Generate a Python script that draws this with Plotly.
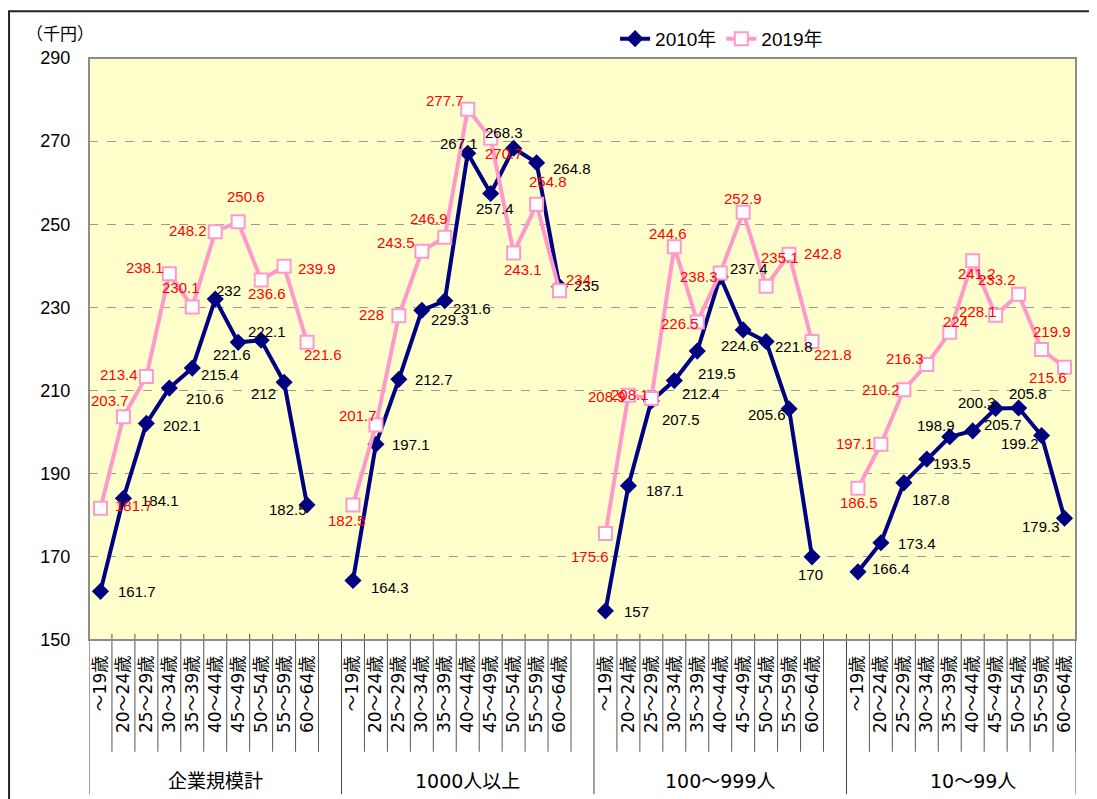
import plotly.graph_objects as go

# 区分
GRUPOS = ['企業規模計', '1000人以上', '100～999人', '10～99人']
EDADES = ['～19歳', '20～24歳', '25～29歳', '30～34歳', '35～39歳',
          '40～44歳', '45～49歳', '50～54歳', '55～59歳', '60～64歳']

# 2010年 (千円)
V2010_TOTAL = [161.7, 184.1, 202.1, 210.6, 215.4, 232, 221.6, 222.1, 212, 182.5]
V2010_1000 = [164.3, 197.1, 212.7, 229.3, 231.6, 267.1, 257.4, 268.3, 264.8, 235]
V2010_100 = [157, 187.1, 207.5, 212.4, 219.5, 237.4, 224.6, 221.8, 205.6, 170]
V2010_10 = [166.4, 173.4, 187.8, 193.5, 198.9, 200.3, 205.7, 205.8, 199.2, 179.3]

# 2019年 (千円)
V2019_TOTAL = [181.7, 203.7, 213.4, 238.1, 230.1, 248.2, 250.6, 236.6, 239.9, 221.6]
V2019_1000 = [182.5, 201.7, 228, 243.5, 246.9, 277.7, 270.7, 243.1, 254.8, 234]
V2019_100 = [175.6, 208.9, 208.1, 244.6, 226.5, 238.3, 252.9, 235.1, 242.8, 221.8]
V2019_10 = [186.5, 197.1, 210.2, 216.3, 224, 241.2, 228.1, 233.2, 219.9, 215.6]

SERIES = [
    ('2010年', [V2010_TOTAL, V2010_1000, V2010_100, V2010_10]),
    ('2019年', [V2019_TOTAL, V2019_1000, V2019_100, V2019_10]),
]

# desplazamiento de cada etiqueta respecto a su punto, en px (dx, dy hacia abajo)
DESPLAZ_ETIQUETAS = {
    '2010年': [
        [(37, 0), (37, 2), (36, 2), (36, 10), (28, 6), (13, -9), (-6, 12), (6, -9), (-21, 11), (-19, 5)],
        [(37, 7), (35, 0), (35, 0), (28, 9), (27, 8), (-9, -10), (4, 15), (-10, -16), (35, 6), (27, -1)],
        [(31, 1), (37, 5), (30, 19), (27, 13), (20, 22), (29, -8), (-3, 16), (28, 5), (-22, 6), (-2, 18)],
        [(33, -3), (36, 1), (27, 17), (25, 4), (-14, -11), (4, -28), (7, 16), (9, -15), (-22, 8), (-24, 8)],
    ],
    '2019年': [
        [(34, -3), (-13, -16), (-27, -2), (-24, -6), (-11, -20), (-27, -1), (8, -25), (6, 14), (33, 2), (16, 12)],
        [(-6, 16), (-18, -10), (-27, -1), (-26, -9), (-16, -19), (-23, -9), (13, 15), (9, 17), (11, -23), (19, -11)],
        [(-15, 23), (-21, 1), (-21, -4), (-6, -13), (-17, 2), (-21, 4), (0, -14), (14, -29), (34, -1), (21, 13)],
        [(1, 14), (-26, -1), (-23, 0), (-22, -6), (6, -11), (4, 13), (-18, -4), (-22, -15), (10, -18), (-17, 10)],
    ],
}

ESTILOS = {
    '2010年': dict(color='#000080', symbol='diamond', size=11, fill='#000080',
                  texto='#000000', ancho=4),
    '2019年': dict(color='#FF99CC', symbol='square', size=13, fill='#FFFFFF',
                  texto='#FF0000', ancho=4),
}

HUECO = 11  # 10 edades + 1 espacio entre grupos
n_slots = HUECO * (len(GRUPOS) - 1) + len(EDADES)

fig = go.Figure()
annotations = []

for nombre, grupos in SERIES:
    est = ESTILOS[nombre]
    for g, valores in enumerate(grupos):
        xs = [g * HUECO + i for i in range(len(EDADES))]
        fig.add_trace(go.Scatter(
            x=xs,
            y=valores,
            name=nombre,
            legendgroup=nombre,
            showlegend=(g == 0),
            mode='lines+markers',
            line=dict(color=est['color'], width=est['ancho']),
            marker=dict(symbol=est['symbol'], size=est['size'], color=est['fill'],
                        line=dict(color=est['color'], width=2)),
            hoverinfo='skip',
        ))
        for x, v, (dx, dy) in zip(xs, valores, DESPLAZ_ETIQUETAS[nombre][g]):
            annotations.append(dict(
                x=x, y=v, xref='x', yref='y', text=f'{v:g}', showarrow=False,
                xshift=dx, yshift=-dy, xanchor='center', yanchor='middle',
                font=dict(family='Liberation Sans, Noto Sans CJK JP', size=15,
                          color=est['texto']),
            ))

tickvals = [g * HUECO + i for g in range(len(GRUPOS)) for i in range(len(EDADES))]
ticktext = [e for _ in GRUPOS for e in EDADES]

# líneas del eje de categorías
shapes = []
for k in range(n_slots + 1):
    shapes.append(dict(type='line', xref='x', yref='paper', x0=k - 0.5, x1=k - 0.5,
                       y0=0, y1=0.0105, line=dict(color='#555555', width=1)))
for g in range(len(GRUPOS)):
    for i in range(len(EDADES)):
        shapes.append(dict(type='line', xref='x', yref='paper',
                           x0=g * HUECO + i + 0.5, x1=g * HUECO + i + 0.5,
                           y0=0, y1=-0.192, line=dict(color='#555555', width=1)))
for g in range(len(GRUPOS)):
    x = g * HUECO - 0.5
    shapes.append(dict(type='line', xref='x', yref='paper', x0=x, x1=x,
                       y0=0, y1=-0.265, line=dict(color='#444444', width=1)))
shapes.append(dict(type='line', xref='x', yref='paper', x0=n_slots - 0.5,
                   x1=n_slots - 0.5, y0=0, y1=-0.265,
                   line=dict(color='#444444', width=1)))
# marco del área de trazado
shapes.append(dict(type='rect', xref='paper', yref='paper', x0=0, x1=1, y0=0, y1=1,
                   line=dict(color='#8C8C8C', width=2), layer='above'))
# borde exterior
shapes.append(dict(type='rect', xref='paper', yref='paper', x0=-0.081, x1=1.0172,
                   y0=-0.32, y1=1.0805, line=dict(color='#222222', width=2)))

annotations.append(dict(text='（千円）', xref='paper', yref='paper', x=-0.0294,
                        y=1.0445, xanchor='center', yanchor='middle', showarrow=False,
                        font=dict(family='Noto Sans CJK JP', size=17, color='#000')))
for g, nombre in enumerate(GRUPOS):
    annotations.append(dict(
        text=nombre, xref='x', yref='paper', x=g * HUECO + (HUECO - 1) / 2,
        y=-0.243, xanchor='center', yanchor='middle', showarrow=False,
        font=dict(family='DejaVu Sans, Noto Sans CJK JP', size=19, color='#000'),
    ))

fig.update_layout(
    width=1089,
    height=791,
    autosize=False,
    margin=dict(l=81, r=21, t=48, b=159),
    paper_bgcolor='white',
    plot_bgcolor='#FFFFCC',
    font=dict(family='Liberation Sans, Noto Sans CJK JP', color='#000'),
    xaxis=dict(
        range=[-0.5, n_slots - 0.5],
        tickmode='array',
        tickvals=tickvals,
        ticktext=ticktext,
        tickangle=-90,
        tickfont=dict(family='DejaVu Sans, Noto Sans CJK JP', size=17, color='#000'),
        ticklabelstandoff=8,
        showgrid=False,
        zeroline=False,
        showline=True,
        linecolor='#333333',
        linewidth=1,
        ticks='',
    ),
    yaxis=dict(
        range=[150, 290],
        tickmode='array',
        tickvals=list(range(150, 291, 20)),
        tickfont=dict(family='Liberation Sans', size=18, color='#000'),
        ticklabelstandoff=14,
        showgrid=True,
        gridcolor='#9A9A9A',
        griddash='dash',
        gridwidth=1,
        zeroline=False,
        showline=True,
        linecolor='#333333',
        linewidth=1,
        ticks='',
    ),
    legend=dict(
        orientation='h',
        x=0.533,
        y=1.033,
        xanchor='left',
        yanchor='middle',
        font=dict(family='Liberation Sans, Noto Sans CJK JP', size=19, color='#000'),
        bgcolor='rgba(0,0,0,0)',
        itemclick=False,
    ),
    shapes=shapes,
    annotations=annotations,
)

fig.write_html('out.html')
